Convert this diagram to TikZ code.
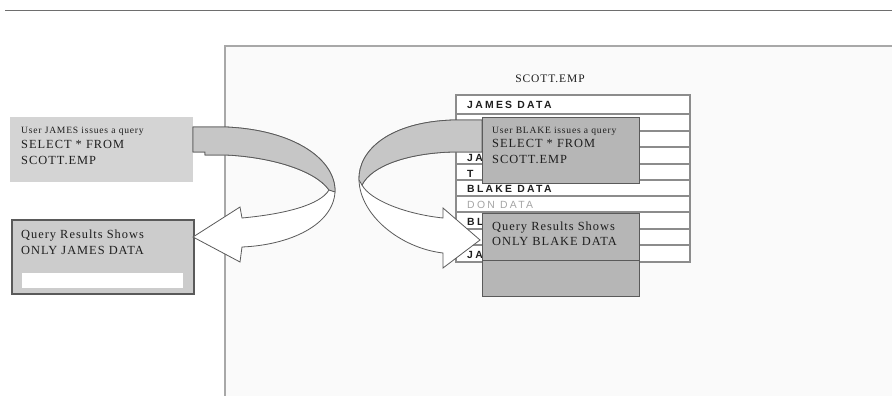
\documentclass[tikz,border=0pt]{standalone}
\usepackage{fontspec}
\setmainfont{Liberation Serif}
\newfontfamily\capfont[LetterSpace=8]{Liberation Serif}
\newfontfamily\tabfont[LetterSpace=22]{Liberation Sans}

\definecolor{rulegray}{HTML}{6E6E6E}
\definecolor{panelfill}{HTML}{FAFAFA}
\definecolor{panelline}{HTML}{A8A8A8}
\definecolor{lightbox}{HTML}{D4D4D4}
\definecolor{resbox}{HTML}{CCCCCC}
\definecolor{midbox}{HTML}{B6B6B6}
\definecolor{band}{HTML}{C6C6C6}
\definecolor{edge}{HTML}{5A5A5A}
\definecolor{rowline}{HTML}{8C8C8C}
\definecolor{inktext}{HTML}{1E1E1E}
\definecolor{fadetext}{HTML}{A4A4A4}

\tikzset{
  box/.style={anchor=north west, inner sep=0pt, outer sep=0pt},
  smalltxt/.style={anchor=base west, inner sep=0pt, text=inktext,
    font=\capfont\fontsize{9.6}{11}\selectfont},
  bigtxt/.style={anchor=base west, inner sep=0pt, text=inktext,
    font=\capfont\fontsize{12.4}{15}\selectfont},
  celltxt/.style={anchor=base west, inner sep=0pt, text=inktext,
    font=\tabfont\bfseries\fontsize{10.4}{12}\selectfont},
  ribbon/.style={draw=edge, line width=0.8pt, line join=miter},
}

\begin{document}
\begin{tikzpicture}[x=1pt, y=-1pt]
\useasboundingbox (0,0) rectangle (892,396);
\fill[white] (0,0) rectangle (892,396);

% top rule
\draw[rulegray, line width=1.5pt] (5,10.5) -- (892,10.5);

% database panel
\fill[panelfill] (225,46) rectangle (893,397);
\draw[panelline, line width=1.6pt] (225,397) -- (225,46) -- (893,46);

\node[anchor=base, inner sep=0pt, text=inktext,
      font=\capfont\fontsize{11.5}{14}\selectfont] (title) at (550,83) {SCOTT.EMP};

% table of rows
\node[box, draw=rowline, fill=white, line width=1.2pt,
      minimum width=234pt, minimum height=167pt] (tbl) at (456,95) {};
\foreach \yy in {114,131,147,164,180,196,212,229,245}
  \draw[rowline, line width=1.2pt] (456,\yy) -- (690,\yy);

\node[celltxt] (r1) at (467,109) {JAMES DATA};
\node[celltxt] (r4) at (467,161) {JA};
\node[celltxt] (r5) at (467,177) {T};
\node[celltxt] (r6) at (467,192) {BLAKE DATA};
\node[celltxt, text=fadetext, font=\tabfont\fontsize{10.4}{12}\selectfont] (r7) at (467,208) {DON DATA};
\node[celltxt] (r8) at (467,225) {BL};
\node[celltxt] (r9) at (467,241) {S};
\node[celltxt] (r10) at (467,258) {JA};

% JAMES side: query box and result box
\node[box, fill=lightbox, minimum width=183pt, minimum height=65pt] (jq) at (10,117) {};
\node[smalltxt] (jq1) at (21,133) {User JAMES issues a query};
\node[bigtxt] (jq2) at (21,148) {SELECT * FROM};
\node[bigtxt] (jq3) at (21,164) {SCOTT.EMP};

\node[box, fill=resbox, draw=edge, line width=1.2pt,
      minimum width=182pt, minimum height=74pt] (jr) at (12,220) {};
\node[bigtxt] (jr1) at (21,238) {Query Results Shows};
\node[bigtxt] (jr2) at (21,254) {ONLY JAMES DATA};
\node[box, fill=white, minimum width=161pt, minimum height=15pt] (jbar) at (22,273) {};

% JAMES curved arrow (U-turn ribbon)
\path[ribbon, fill=white]
  (193,127) -- (226,127) .. controls (295,130) and (336,160) .. (335,192)
  .. controls (333,225) and (290,245) .. (242,247)
  -- (240,262) -- (193,237) -- (240,207) -- (242,218)
  .. controls (285,214) and (320,205) .. (329,190)
  .. controls (315,170) and (270,157) .. (226,155)
  -- (205,155) -- (205,152) -- (193,152) -- cycle;
\path[ribbon, fill=band]
  (193,127) -- (226,127) .. controls (295,130) and (336,160) .. (335,192)
  -- (329,190) .. controls (315,170) and (270,157) .. (226,155)
  -- (205,155) -- (205,152) -- (193,152) -- cycle;

% BLAKE curved arrow (U-turn ribbon)
\path[ribbon, fill=white]
  (482,120) -- (453,120) .. controls (390,122) and (358,150) .. (359,180)
  .. controls (360,215) and (400,248) .. (443,253)
  -- (443,268) -- (480,240) -- (443,208) -- (443,218)
  .. controls (405,214) and (370,200) .. (362,185)
  .. controls (372,165) and (410,153) .. (453,152)
  -- (482,152) -- cycle;
\path[ribbon, fill=band]
  (482,120) -- (453,120) .. controls (390,122) and (358,150) .. (359,180)
  -- (362,185) .. controls (372,165) and (410,153) .. (453,152)
  -- (482,152) -- cycle;

% BLAKE side: query box and result box
\node[box, fill=midbox, draw=edge, line width=1pt,
      minimum width=157pt, minimum height=66pt] (bq) at (482,117) {};
\node[smalltxt] (bq1) at (492,133) {User BLAKE issues a query};
\node[bigtxt] (bq2) at (492,147) {SELECT * FROM};
\node[bigtxt] (bq3) at (492,163) {SCOTT.EMP};

\node[box, fill=midbox, draw=edge, line width=1pt,
      minimum width=157pt, minimum height=83pt] (br) at (482,213) {};
\draw[edge, line width=1pt] (br.west |- 0,260) -- (br.east |- 0,260);
\node[bigtxt] (br1) at (492,230) {Query Results Shows};
\node[bigtxt] (br2) at (492,245) {ONLY BLAKE DATA};
\end{tikzpicture}
\end{document}
